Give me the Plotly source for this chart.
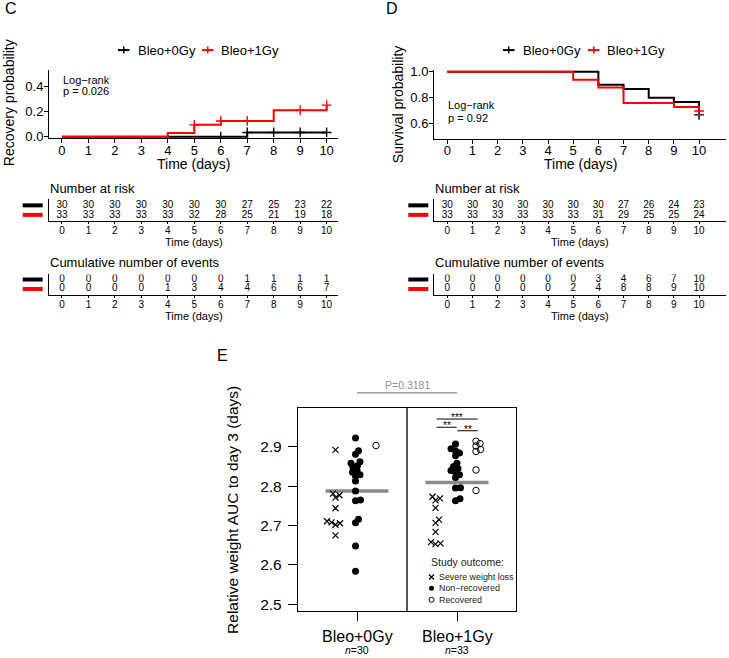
import plotly.graph_objects as go

W, H = 729, 658
YA, YB = 6.0, 0.98   # empirical vertical calibration of the rendered page
def fx(p): return p / W
def fy(p): return 1 - ((p - YA) / YB) / H

FONT = "Liberation Sans, Arial, sans-serif"

# ---------------- data ----------------
days = list(range(11))
group_names = ["Bleo+0Gy", "Bleo+1Gy"]
group_n = [30, 33]
group_colors = ["#000000", "#FF0000"]

# Panel C: recovery probability (step curves)
rec_t_0gy = [0, 7, 10]
rec_p_0gy = [0.0, 0.034, 0.034]
rec_t_1gy = [0, 4, 5, 6, 8, 10]
rec_p_1gy = [0.0, 0.030, 0.094, 0.125, 0.209, 0.25]
rec_cens_t_0gy = [6, 7, 8, 9, 10]
rec_cens_p_0gy = [0.0, 0.034, 0.034, 0.034, 0.034]
rec_cens_t_1gy = [5, 6, 7, 9, 10]
rec_cens_p_1gy = [0.094, 0.125, 0.125, 0.209, 0.25]

# Panel D: survival probability
sur_t_0gy = [0, 6, 7, 8, 9, 10]
sur_p_0gy = [1.0, 0.900, 0.867, 0.800, 0.767, 0.667]
sur_t_1gy = [0, 5, 6, 7, 9, 10]
sur_p_1gy = [1.0, 0.939, 0.879, 0.758, 0.727, 0.697]
sur_cens_t_0gy = [10]
sur_cens_p_0gy = [0.667]
sur_cens_t_1gy = [10]
sur_cens_p_1gy = [0.697]

# Risk tables
risk_C_0gy = [30, 30, 30, 30, 30, 30, 30, 27, 25, 23, 22]
risk_C_1gy = [33, 33, 33, 33, 33, 32, 28, 25, 21, 19, 18]
events_C_0gy = [0, 0, 0, 0, 0, 0, 0, 1, 1, 1, 1]
events_C_1gy = [0, 0, 0, 0, 1, 3, 4, 4, 6, 6, 7]
risk_D_0gy = [30, 30, 30, 30, 30, 30, 30, 27, 26, 24, 23]
risk_D_1gy = [33, 33, 33, 33, 33, 33, 31, 29, 25, 25, 24]
events_D_0gy = [0, 0, 0, 0, 0, 0, 3, 4, 6, 7, 10]
events_D_1gy = [0, 0, 0, 0, 0, 2, 4, 8, 8, 9, 10]

# Panel E: relative weight AUC to day 3
auc_0gy_severe = [2.892, 2.781, 2.777, 2.771, 2.744, 2.711, 2.708, 2.706, 2.702, 2.675]
auc_0gy_nonrec = [2.922, 2.890, 2.881, 2.862, 2.858, 2.852, 2.847, 2.840, 2.835, 2.829,
                  2.826, 2.813, 2.788, 2.765, 2.763, 2.716, 2.707, 2.648, 2.584]
auc_0gy_rec = [2.903]
auc_1gy_severe = [2.773, 2.769, 2.764, 2.745, 2.715, 2.707, 2.684, 2.658, 2.655, 2.653]
auc_1gy_nonrec = [2.907, 2.895, 2.890, 2.884, 2.877, 2.858, 2.850, 2.845, 2.840, 2.835,
                  2.829, 2.822, 2.796, 2.795, 2.768, 2.763]
auc_1gy_rec = [2.914, 2.908, 2.902, 2.893, 2.888, 2.841, 2.789]
auc_means = [2.788, 2.809]
p_value_text = "P=0.3181"

# ---------------- helpers ----------------
def swarm(values, base, sx=100.0, sy=393.0, d=4.6):
    placed = []
    xs = [0.0] * len(values)
    cands = [0.0]
    for s in range(1, 60):
        cands += [s * 0.5, -s * 0.5]
    for i in sorted(range(len(values)), key=lambda k: values[k]):
        yv = values[i] * sy
        chosen = 0.0
        for c in cands:
            if all((c - a) ** 2 + (yv - b) ** 2 >= d * d for a, b in placed):
                chosen = c
                break
        placed.append((chosen, yv))
        xs[i] = base + chosen / sx
    return xs

fig = go.Figure()

def step(t, p, color, xa, ya):
    fig.add_trace(go.Scatter(x=t, y=p, mode="lines", line=dict(color=color, width=2, shape="hv"),
                             xaxis=xa, yaxis=ya, showlegend=False, hoverinfo="skip"))

def cens(t, p, color, xa, ya):
    fig.add_trace(go.Scatter(x=t, y=p, mode="markers",
                             marker=dict(symbol="cross-thin", size=7, color=color, line=dict(color=color, width=1.4)),
                             xaxis=xa, yaxis=ya, showlegend=False, hoverinfo="skip"))

# Panel C
step(rec_t_0gy, rec_p_0gy, group_colors[0], "x", "y")
step(rec_t_1gy, rec_p_1gy, group_colors[1], "x", "y")
cens(rec_cens_t_0gy, rec_cens_p_0gy, group_colors[0], "x", "y")
cens(rec_cens_t_1gy, rec_cens_p_1gy, group_colors[1], "x", "y")
# Panel D
step(sur_t_0gy, sur_p_0gy, group_colors[0], "x2", "y2")
step(sur_t_1gy, sur_p_1gy, group_colors[1], "x2", "y2")
cens(sur_cens_t_0gy, sur_cens_p_0gy, group_colors[0], "x2", "y2")
cens(sur_cens_t_1gy, sur_cens_p_1gy, group_colors[1], "x2", "y2")

def table(vals0, vals1, xa, ya):
    for row, vals in ((1, vals0), (0, vals1)):
        fig.add_trace(go.Scatter(x=days, y=[row] * len(days), text=[str(v) for v in vals],
                                 mode="text", textfont=dict(size=10, color="black", family=FONT),
                                 xaxis=xa, yaxis=ya, showlegend=False, hoverinfo="skip"))

table(risk_C_0gy, risk_C_1gy, "x3", "y3")
table(events_C_0gy, events_C_1gy, "x4", "y4")
table(risk_D_0gy, risk_D_1gy, "x5", "y5")
table(events_D_0gy, events_D_1gy, "x6", "y6")

# Panel E
offs = {"severe": -0.215, "nonrec": -0.015, "rec": 0.19}
sty = {
    "severe": dict(symbol="x-thin-open", size=6, color="black", line=dict(color="black", width=1.2)),
    "nonrec": dict(symbol="circle", size=7, color="black", line=dict(width=0)),
    "rec": dict(symbol="circle-open", size=6.5, color="black", line=dict(color="black", width=1)),
}
gdata = [
    {"severe": auc_0gy_severe, "nonrec": auc_0gy_nonrec, "rec": auc_0gy_rec},
    {"severe": auc_1gy_severe, "nonrec": auc_1gy_nonrec, "rec": auc_1gy_rec},
]
for gi, gd in enumerate(gdata):
    for k, vals in gd.items():
        xs = swarm(vals, gi + 1 + offs[k])
        fig.add_trace(go.Scatter(x=xs, y=vals, mode="markers", marker=sty[k],
                                 xaxis="x7", yaxis="y7", showlegend=False, hoverinfo="skip"))

# overlay (paper-fraction coordinates) for the legend glyphs in E
for ypx, k in ((576, "severe"), (587.3, "nonrec"), (598.7, "rec")):
    m = dict(sty[k]); m["size"] = 5
    fig.add_trace(go.Scatter(x=[fx(431.5)], y=[fy(ypx)], mode="markers", marker=m,
                             xaxis="x8", yaxis="y8", showlegend=False, hoverinfo="skip"))

# ---------------- axes ----------------
def axline(**kw):
    d = dict(showgrid=False, zeroline=False, showline=True, linecolor="black", linewidth=1,
             ticks="outside", tickcolor="black", tickwidth=1, ticklen=4,
             tickfont=dict(size=13, family=FONT, color="black"), fixedrange=True)
    d.update(kw)
    return d

C_X = [fx(49), fx(338)]; C_XR = [-0.49, 10.43]
D_X = [fx(434), fx(726)]; D_XR = [-0.528, 11.07]

layout = dict(
    width=W, height=H, autosize=False, margin=dict(l=0, r=0, t=0, b=0),
    paper_bgcolor="white", plot_bgcolor="rgba(0,0,0,0)", font=dict(family=FONT, color="black"),
    showlegend=False,
    xaxis=axline(domain=C_X, range=C_XR, anchor="y", tickvals=days, ticklabelstandoff=-4),
    yaxis=axline(domain=[fy(138), fy(70)], range=[-0.012, 0.527], anchor="x", ticklabelstandoff=-2,
                 tickvals=[0, 0.2, 0.4], ticktext=["0.0", "0.2", "0.4"]),
    xaxis2=axline(domain=D_X, range=D_XR, anchor="y2", tickvals=days, ticklabelstandoff=-4),
    yaxis2=axline(domain=[fy(138.3), fy(70)], range=[0.484, 1.013], anchor="x2", ticklabelstandoff=-2,
                  tickvals=[0.6, 0.8, 1.0], ticktext=["0.6", "0.8", "1.0"]),
)
tab = dict(ticklen=2, tickfont=dict(size=10, family=FONT, color="black"), tickvals=days, ticklabelstandoff=-2)
tyax = dict(showticklabels=False, ticks="")
layout["xaxis3"] = axline(domain=C_X, range=C_XR, anchor="y3", **tab)
layout["yaxis3"] = axline(domain=[fy(220.5), fy(199)], range=[-0.55, 1.6], anchor="x3", **tyax)
layout["xaxis4"] = axline(domain=C_X, range=C_XR, anchor="y4", **tab)
layout["yaxis4"] = axline(domain=[fy(294.5), fy(274)], range=[-0.67, 1.54], anchor="x4", **tyax)
layout["xaxis5"] = axline(domain=D_X, range=D_XR, anchor="y5", **tab)
layout["yaxis5"] = axline(domain=[fy(220.5), fy(199)], range=[-0.55, 1.6], anchor="x5", **tyax)
layout["xaxis6"] = axline(domain=D_X, range=D_XR, anchor="y6", **tab)
layout["yaxis6"] = axline(domain=[fy(294.5), fy(274)], range=[-0.67, 1.54], anchor="x6", **tyax)
layout["xaxis7"] = axline(domain=[fx(298), fx(516)], range=[0.41, 2.59], anchor="y7", mirror=True,
                          tickvals=[1, 2], showticklabels=False, ticklen=9, linewidth=1.3)
layout["yaxis7"] = axline(domain=[fy(610), fy(407)], range=[2.483, 2.999], anchor="x7", mirror=True,
                          tickvals=[2.5, 2.6, 2.7, 2.8, 2.9], ticktext=["2.5", "2.6", "2.7", "2.8", "2.9"],
                          ticklen=9, linewidth=1.3, ticklabelstandoff=3,
                          tickfont=dict(size=15.5, family=FONT, color="black"))
layout["xaxis8"] = dict(domain=[0, 1], range=[0, 1], visible=False, anchor="y8", fixedrange=True)
layout["yaxis8"] = dict(domain=[0, 1], range=[0, 1], visible=False, anchor="x8", fixedrange=True)
fig.update_layout(**layout)

# ---------------- annotations ----------------
anns = []
def ann(text, x, y, size, xanchor="center", yanchor="middle", color="black", angle=0, xref="paper", yref="paper"):
    anns.append(dict(text=text, x=x, y=y, xref=xref, yref=yref, xanchor=xanchor, yanchor=yanchor,
                     showarrow=False, textangle=angle, borderpad=0,
                     font=dict(size=size, color=color, family=FONT)))

ann("C", fx(4), fy(8), 16, xanchor="left")
ann("D", fx(385), fy(8), 16, xanchor="left")
ann("E", fx(216), fy(355), 16, xanchor="left")

ann("Recovery probability", fx(9), fy(103), 14, angle=-90)
ann("Survival probability", fx(398), fy(104), 14, angle=-90)
ann("Time (days)", fx(193.5), fy(164), 14)
ann("Time (days)", fx(580), fy(164), 14)

ann("Log\u2212rank", fx(62), fy(80), 11, xanchor="left")
ann("p = 0.026", fx(62), fy(91), 11, xanchor="left")
ann("Log\u2212rank", fx(447), fy(105), 11, xanchor="left")
ann("p = 0.92", fx(447), fy(117.5), 11, xanchor="left")

# legends for C and D
shapes = []
def hline(x0, x1, y, color, width):
    shapes.append(dict(type="line", xref="paper", yref="paper", x0=fx(x0), x1=fx(x1), y0=fy(y), y1=fy(y),
                       line=dict(color=color, width=width)))
def vline(x, y0, y1, color, width):
    shapes.append(dict(type="line", xref="paper", yref="paper", x0=fx(x), x1=fx(x), y0=fy(y0), y1=fy(y1),
                       line=dict(color=color, width=width)))

for (lx, tx), col, name in [((118, 137), group_colors[0], group_names[0]), ((202, 220), group_colors[1], group_names[1]),
                            ((503, 522), group_colors[0], group_names[0]), ((588, 606), group_colors[1], group_names[1])]:
    hline(lx, lx + 11.5, 50, col, 2)
    vline(lx + 5.75, 46.5, 53.5, col, 1.5)
    ann(name, fx(tx), fy(50), 13, xanchor="left")

# table titles and colour bars
for x0 in (49, 434):
    ann("Number at risk", fx(x0), fy(188), 13, xanchor="left")
    ann("Cumulative number of events", fx(x0), fy(262), 13, xanchor="left")
for (b0, b1), cx in (((22.7, 42.7), 193.5), ((408.3, 428.3), 580)):
    hline(b0, b1, 205, group_colors[0], 4)
    hline(b0, b1, 214.5, group_colors[1], 4)
    hline(b0, b1, 279, group_colors[0], 4)
    hline(b0, b1, 288.5, group_colors[1], 4)
    ann("Time (days)", fx(cx), fy(242), 11)
    ann("Time (days)", fx(cx), fy(315.5), 11)

# Panel E annotations
ann("Relative weight AUC to day 3 (days)", fx(233), fy(509), 15.5, angle=-90)
for gi in range(2):
    ann(group_names[gi], gi + 1, 1 - 642 / H, 16, xref="x7")
    ann("<i>n</i>=%d" % group_n[gi], gi + 1, 1 - 656 / H, 10.5, xref="x7")
    shapes.append(dict(type="line", xref="x7", yref="y7", x0=gi + 1 - 0.315, x1=gi + 1 + 0.315,
                       y0=auc_means[gi], y1=auc_means[gi], line=dict(color="#8a8a8a", width=3.5), layer="below"))
shapes.append(dict(type="line", xref="x7", yref="y7 domain", x0=1.5, x1=1.5, y0=0, y1=1,
                   line=dict(color="black", width=1.3)))
shapes.append(dict(type="line", xref="x7", yref="paper", x0=1.0, x1=2.0, y0=fy(392), y1=fy(392),
                   line=dict(color="#a0a0a0", width=1.5)))
ann(p_value_text, 1.5, fy(384.5), 10.5, color="#909090", xref="x7")

# significance brackets (group 2)
for x0, x1, ypx, txt in [(1.797, 2.207, 418.3, "***"), (1.797, 1.997, 426.5, "**"), (2.003, 2.207, 430, "**")]:
    shapes.append(dict(type="line", xref="x7", yref="paper", x0=x0, x1=x1, y0=fy(ypx), y1=fy(ypx),
                       line=dict(color="black", width=1)))
    ann(txt, (x0 + x1) / 2, fy(ypx - 1.5), 10, xref="x7", color="black")

# legend in E
ann("Study outcome:", fx(430), fy(560.7), 10.5, xanchor="left", color="#222")
ann("Severe weight loss", fx(438.3), fy(576), 8.9, xanchor="left", color="#222")
ann("Non\u2212recovered", fx(438.3), fy(587.3), 8.9, xanchor="left", color="#222")
ann("Recovered", fx(438.3), fy(598.7), 8.9, xanchor="left", color="#222")

fig.update_layout(annotations=anns, shapes=shapes)
fig.write_html("out.html", config={"displayModeBar": False},
               post_script="document.body.style.margin='0px';document.body.style.overflow='hidden';")
